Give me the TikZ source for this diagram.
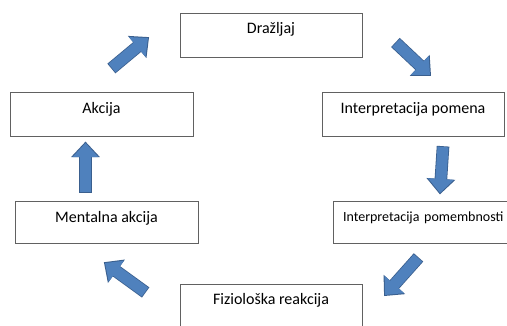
\documentclass[tikz,border=0pt]{standalone}
\usepackage{fontspec}
\setmainfont{Carlito}
\usepackage{xcolor}
\usetikzlibrary{arrows.meta,positioning,calc}
\definecolor{arrowblue}{HTML}{4F81BD}
\definecolor{arrowedge}{HTML}{3A5F8E}

\begin{document}
\begin{tikzpicture}[x=1pt, y=-1pt,
    box/.style={rectangle, draw=black!62, line width=0.9pt, fill=white, inner xsep=0pt, inner ysep=0pt, minimum width=182pt, text height=21pt, text depth=22pt, anchor=north, align=center, font=\fontsize{16}{19}\selectfont},
    fatarrow/.style={draw=arrowblue, line width=11pt, -{Triangle[length=14pt, width=25pt]},
        preaction={draw=arrowedge, line width=12.6pt, shorten <=-0.8pt, shorten >=-1.4pt, -{Triangle[length=15.5pt, width=28pt]}}}
]
\useasboundingbox (0,0) rectangle (507,325);
\clip (0,0) rectangle (507,325);

% Boxes of the cycle
\node[box, text height=20pt, text depth=24pt] (drz) at (271,13) {Dražljaj};
\node[box, text height=21pt, text depth=23pt] (pom) at (413,92) {Interpretacija pomena};
\node[box, minimum width=183pt, text height=21pt, text depth=23pt] (akc) at (101.5,92) {Akcija};
\node[box, minimum width=183pt, text height=21pt, text depth=21pt] (men) at (106.5,201) {Mentalna akcija};
\node[box, text width=172pt, inner xsep=9.5pt, align=left, text height=20pt, text depth=22pt, font=\fontsize{14}{17}\selectfont] (pmb) at (429,201) {Interpretacija pomembnosti};
\node[box, text height=20pt, text depth=30pt] (fiz) at (271,284) {Fiziološka reakcija};

% Ends of the block arrows
\coordinate (a1s) at (112,68);  \coordinate (a1e) at (148,38);
\coordinate (a2s) at (396,43);  \coordinate (a2e) at (430,75);
\coordinate (a3s) at (443,147); \coordinate (a3e) at (440,193);
\coordinate (a4s) at (418,258); \coordinate (a4e) at (385,295);
\coordinate (a5s) at (145,292); \coordinate (a5e) at (105,263);
\coordinate (a6s) at (85.5,192); \coordinate (a6e) at (85.5,143);

% Block arrows
\draw[fatarrow] (a1s) -- (a1e);
\draw[fatarrow] (a2s) -- (a2e);
\draw[fatarrow] (a3s) -- (a3e);
\draw[fatarrow] (a4s) -- (a4e);
\draw[fatarrow] (a5s) -- (a5e);
\draw[fatarrow] (a6s) -- (a6e);
\end{tikzpicture}
\end{document}
